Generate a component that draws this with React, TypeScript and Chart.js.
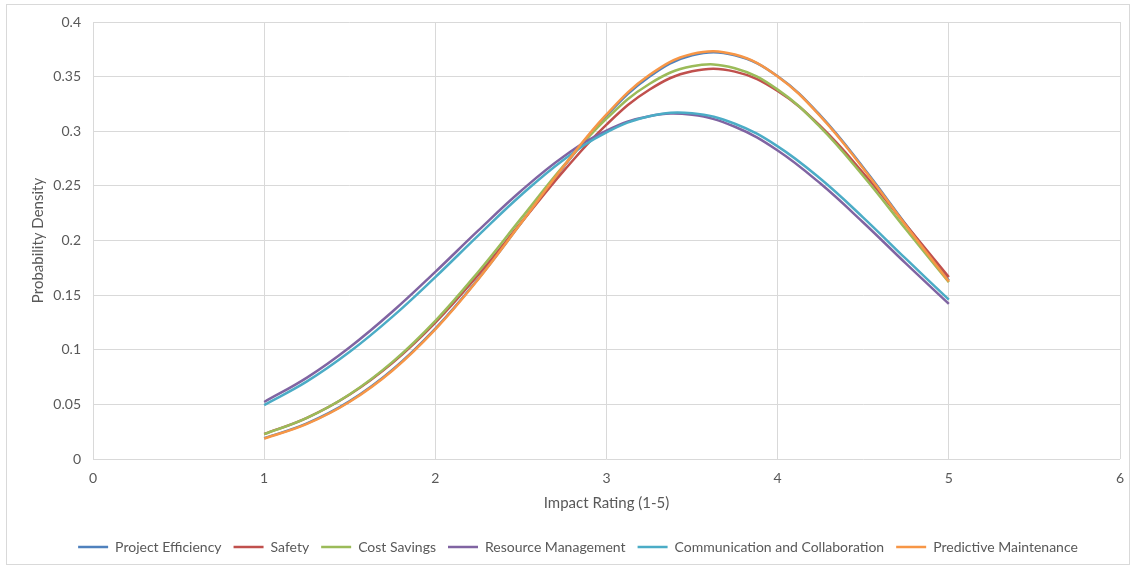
import React, { useEffect, useRef } from "react";
import { Chart, registerables } from "chart.js";

Chart.register(...registerables);

const impactRatings = [1, 1.25, 1.5, 1.75, 2, 2.25, 2.5, 2.75, 3, 3.25, 3.5, 3.75, 4, 4.25, 4.5, 4.75, 5];

const projectEfficiency = [0.019, 0.0326, 0.053, 0.0817, 0.1193, 0.1648, 0.2158, 0.2675, 0.3143, 0.3499, 0.3695, 0.3696, 0.3503, 0.3143, 0.2668, 0.2145, 0.1634];
const safety = [0.0229, 0.0377, 0.059, 0.088, 0.1248, 0.1684, 0.2161, 0.2637, 0.3061, 0.338, 0.3549, 0.3546, 0.3369, 0.3046, 0.2618, 0.2141, 0.1665];
const costSavings = [0.0227, 0.0376, 0.0593, 0.0889, 0.1265, 0.1712, 0.22, 0.2686, 0.3115, 0.3433, 0.3595, 0.3577, 0.3381, 0.3036, 0.2591, 0.2101, 0.1618];
const resourceManagement = [0.0522, 0.0745, 0.1023, 0.135, 0.1713, 0.209, 0.2453, 0.2769, 0.3006, 0.3138, 0.315, 0.3041, 0.2824, 0.2521, 0.2165, 0.1788, 0.142];
const communication = [0.0494, 0.071, 0.0981, 0.1303, 0.1665, 0.2045, 0.2414, 0.274, 0.299, 0.3138, 0.3165, 0.3069, 0.2862, 0.2565, 0.221, 0.1831, 0.1459];
const predictiveMaintenance = [0.0186, 0.0321, 0.0524, 0.081, 0.1186, 0.1643, 0.2157, 0.268, 0.3154, 0.3514, 0.3707, 0.3702, 0.3502, 0.3137, 0.266, 0.2135, 0.1624];

const seriesNames = [
  "Project Efficiency",
  "Safety",
  "Cost Savings",
  "Resource Management",
  "Communication and Collaboration",
  "Predictive Maintenance",
];
const seriesValues = [projectEfficiency, safety, costSavings, resourceManagement, communication, predictiveMaintenance];
const seriesColors = ["#4F81BD", "#C0504D", "#9BBB59", "#8064A2", "#4BACC6", "#F79646"];

const xTitle = "Impact Rating (1-5)";
const yTitle = "Probability Density";

const FONT = "Lato, 'Open Sans', sans-serif";
const TEXT = "#595959";
const GRID = "#d9d9d9";

const frame = {
  id: "frame",
  afterLayout(chart: any) {
    if (chart.legend) {
      chart.legend.left += 18;
      chart.legend.right += 18;
    }
  },
  beforeDraw(chart: any) {
    const ctx = chart.ctx;
    ctx.save();
    ctx.fillStyle = "#ffffff";
    ctx.fillRect(0, 0, chart.width, chart.height);
    ctx.strokeStyle = GRID;
    ctx.lineWidth = 1;
    ctx.strokeRect(6.5, 4.5, 1123, 560);
    ctx.restore();
  },
};

export default function App() {
  const ref = useRef<HTMLCanvasElement | null>(null);
  useEffect(() => {
    if (!ref.current) return;
    const n = seriesNames.length;
    const chart = new Chart(ref.current, {
      type: "line",
      data: {
        datasets: seriesNames.map((name, i) => ({
          label: name,
          data: impactRatings.map((x, j) => ({ x, y: seriesValues[i][j] })),
          borderColor: seriesColors[i],
          backgroundColor: seriesColors[i],
          borderWidth: 2.5,
          pointRadius: 0,
          tension: 0.4,
          fill: false,
          order: n - i,
        })),
      },
      options: {
        animation: false,
        responsive: false,
        layout: { padding: { left: 0, right: 16, top: 22, bottom: 5 } },
        plugins: {
          tooltip: { enabled: false },
          legend: {
            position: "bottom",
            labels: {
              usePointStyle: true,
              pointStyle: "line",
              pointStyleWidth: 30,
              padding: 12,
              color: TEXT,
              font: { family: FONT, size: 14 },
              sort: (a: any, b: any) => a.datasetIndex - b.datasetIndex,
            },
          },
        },
        scales: {
          x: {
            type: "linear",
            min: 0,
            max: 6,
            ticks: { stepSize: 1, padding: 11, color: TEXT, font: { family: FONT, size: 14 } },
            grid: { color: GRID, drawTicks: false },
            border: { display: false },
            title: {
              display: true,
              text: xTitle,
              color: TEXT,
              font: { family: FONT, size: 15 },
              padding: { top: 4, bottom: 16 },
            },
            afterFit: (s: any) => {
              s.height = 69;
            },
          },
          y: {
            min: 0,
            max: 0.4,
            ticks: {
              stepSize: 0.05,
              padding: 12,
              color: TEXT,
              font: { family: FONT, size: 14 },
              callback: (v: any) => String(Math.round(Number(v) * 100) / 100),
            },
            grid: { color: GRID, drawTicks: false },
            border: { display: false },
            title: {
              display: true,
              text: yTitle,
              color: TEXT,
              font: { family: FONT, size: 15 },
              padding: { top: 29, bottom: 4 },
            },
            afterFit: (s: any) => {
              s.width = 93;
            },
          },
        },
      },
      plugins: [frame],
    });
    return () => chart.destroy();
  }, []);
  return (
    <div style={{ position: "absolute", left: 0, top: 0, width: 1136, height: 569, background: "#fff" }}>
      <canvas ref={ref} width={1136} height={569} style={{ display: "block" }} />
    </div>
  );
}
